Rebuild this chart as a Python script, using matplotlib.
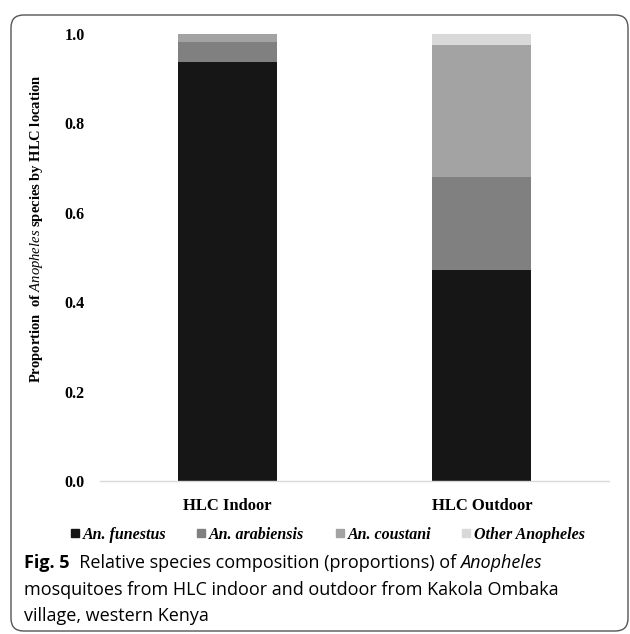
import matplotlib
matplotlib.use('Agg')
import matplotlib.pyplot as plt
from matplotlib.lines import Line2D
from matplotlib.patches import FancyBboxPatch
import numpy as np

# data
locations = ['HLC Indoor', 'HLC Outdoor']
species = ['An. funestus', 'An. arabiensis', 'An. coustani', 'Other Anopheles']
funestus = [0.937, 0.473]
arabiensis = [0.044, 0.207]
coustani = [0.019, 0.295]
other = [0.0, 0.025]
colours = ['#161616', '#808080', '#a3a3a3', '#d9d9d9']
yticks = [0.0, 0.2, 0.4, 0.6, 0.8, 1.0]

plt.rcParams['mathtext.fontset'] = 'custom'
plt.rcParams['mathtext.rm'] = 'Liberation Serif:bold'
plt.rcParams['mathtext.it'] = 'Liberation Serif:italic'

W, H = 630, 634
fig = plt.figure(figsize=(W / 100, H / 100), dpi=100)


def px(x, y):
    # pixel (from top-left) to figure fraction
    return x / W, 1 - y / H


# rounded frame round the figure
frame = FancyBboxPatch((11 / W, 3 / H), 617 / W, 616 / H,
                       boxstyle='round,pad=0,rounding_size=0.02',
                       transform=fig.transFigure, facecolor='none',
                       edgecolor='#555555', linewidth=1.0, zorder=-1)
fig.patches.append(frame)

ax = fig.add_axes([100 / W, 1 - 481 / H, 509 / W, 447 / H])
ax.set_facecolor('none')

x = np.arange(len(locations))
bottom = np.zeros(len(locations))
for vals, c in zip([funestus, arabiensis, coustani, other], colours):
    ax.bar(x, vals, width=0.39, bottom=bottom, color=c, linewidth=0)
    bottom += np.array(vals)

ax.set_xlim(-0.5, 1.5)
ax.set_ylim(0, 1)
ax.set_xticks(x)
ax.set_xticklabels(locations, fontfamily='Liberation Serif', fontweight='bold', fontsize=12)
ax.set_yticks(yticks)
ax.set_yticklabels(['%.1f' % t for t in yticks], fontfamily='Liberation Serif',
                   fontweight='bold', fontsize=11.5)
ax.tick_params(axis='both', length=0)
ax.tick_params(axis='x', pad=12)
ax.tick_params(axis='y', pad=11)
for s in ['top', 'right', 'left']:
    ax.spines[s].set_visible(False)
ax.spines['bottom'].set_color('#d9d9d9')
ax.spines['bottom'].set_linewidth(1.0)

fig.text(*px(37, 229),
         r'$\mathrm{Proportion\ \ of\ }\mathit{Anopheles}\mathrm{\ species\ by\ HLC\ location}$',
         rotation=90, ha='center', va='center', fontsize=10.5)

handles = [Line2D([], [], marker='s', linestyle='none', color=c, markersize=6) for c in colours]
fig.legend(handles, species, loc='center', bbox_to_anchor=px(326, 535), ncol=4,
           frameon=False, handletextpad=0.0, columnspacing=1.7, handlelength=1.0,
           prop={'family': 'Liberation Serif', 'weight': 'bold', 'style': 'italic', 'size': 11.5})

# caption
cap_font = 'Open Sans'
cap_size = 13
x0 = 24
fig.canvas.draw()
r = fig.canvas.get_renderer()
pieces = [('Fig. 5', 'bold', 'normal'),
          ('  Relative species composition (proportions) of ', 'normal', 'normal'),
          ('Anopheles', 'normal', 'italic')]
cx = x0
for txt, wt, st in pieces:
    t = fig.text(*px(cx, 563), txt, fontfamily=cap_font, fontweight=wt, fontstyle=st,
                 fontsize=cap_size, ha='left', va='center')
    bb = t.get_window_extent(renderer=r)
    cx += bb.width
fig.text(*px(x0, 590), 'mosquitoes from HLC indoor and outdoor from Kakola Ombaka',
         fontfamily=cap_font, fontsize=cap_size, ha='left', va='center')
fig.text(*px(x0, 616), 'village, western Kenya',
         fontfamily=cap_font, fontsize=cap_size, ha='left', va='center')

fig.savefig('out.png', dpi=100)
